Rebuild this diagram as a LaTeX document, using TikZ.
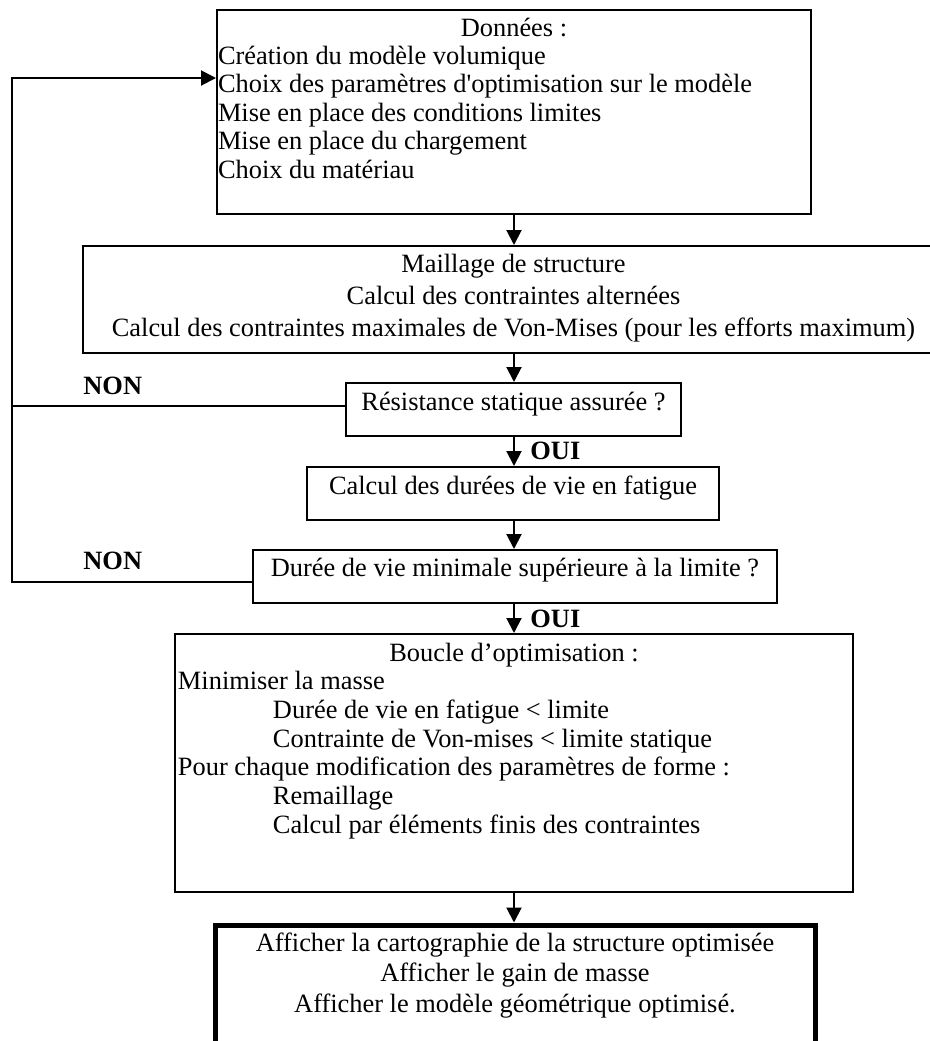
\documentclass[tikz,border=0pt]{standalone}
\usepackage{fontspec}
\setmainfont{Liberation Serif}
\usetikzlibrary{arrows.meta}

\tikzset{
  boite/.style={draw, line width=1pt, inner sep=0pt, anchor=north west},
  fleche/.style={line width=1pt, -{Triangle[width=7.5pt,length=7.5pt]}},
  trait/.style={line width=1pt},
  reponse/.style={anchor=base west, inner sep=0pt, font=\fontsize{13.2pt}{15pt}\bfseries},
}
% texte d'une boite : largeur, hauteur, interligne, texte
\newcommand{\contenu}[4]{\parbox[c][#2][t]{#1}{\fontsize{13.2pt}{#3}\selectfont #4}}
\newcommand{\haut}[1]{\rule{0pt}{#1}}

\begin{document}
\begin{tikzpicture}[x=0.5pt,y=-0.5pt]
  \useasboundingbox (0,0) rectangle (930,1041);

  \node[boite] (donnees) at (216,9) {\contenu{297pt}{102pt}{14.2pt}{\leftskip=0.5pt
      \centerline{\haut{13pt}Données :}
      Création du modèle volumique\\
      Choix des paramètres d\textquotesingle optimisation sur le modèle\\
      Mise en place des conditions limites\\
      Mise en place du chargement\\
      Choix du matériau}};
  \node[boite] (maillage) at (82,245) {\contenu{430.5pt}{53.5pt}{16pt}{\centering
      \haut{13pt}Maillage de structure\\
      Calcul des contraintes alternées\\
      Calcul des contraintes maximales de Von-Mises (pour les efforts maximum)}};
  \node[boite] (resistance) at (345,382) {\contenu{167.5pt}{26.5pt}{14pt}{\centering
      \haut{13.5pt}Résistance statique assurée ?}};
  \node[boite] (fatigue) at (306,466) {\contenu{206pt}{26.5pt}{14pt}{\centering
      \haut{13.5pt}Calcul des durées de vie en fatigue}};
  \node[boite] (duree) at (252,549) {\contenu{262pt}{26.5pt}{14pt}{\centering
      \haut{13pt}Durée de vie minimale supérieure à la limite ?}};
  \node[boite] (boucle) at (174,633) {\contenu{339pt}{129pt}{14.35pt}{\leftskip=1.5pt
      \centerline{\haut{13.5pt}Boucle d’optimisation :}
      Minimiser la masse\\
      \hspace*{47.5pt}Durée de vie en fatigue < limite\\
      \hspace*{47.5pt}Contrainte de Von-mises < limite statique\\
      Pour chaque modification des paramètres de forme :\\
      \hspace*{47.5pt}Remaillage\\
      \hspace*{47.5pt}Calcul par éléments finis des contraintes}};
  \node[boite, line width=2.5pt] (resultat) at (212.5,922.5) {\contenu{300pt}{70pt}{15.25pt}{\centering
      \haut{13pt}Afficher la cartographie de la structure optimisée\\
      Afficher le gain de masse\\
      Afficher le modèle géométrique optimisé.}};

  % reponses
  \node[reponse] (non1) at (83,394) {NON};
  \node[reponse] (non2) at (83,569) {NON};
  \node[reponse] (oui1) at (530,459) {OUI};
  \node[reponse] (oui2) at (530,627) {OUI};

  % enchainement
  \draw[fleche] (donnees.south) -- (donnees.south |- maillage.north);
  \draw[fleche] (donnees.south |- maillage.south) -- (donnees.south |- resistance.north);
  \draw[fleche] (donnees.south |- resistance.south) -- (donnees.south |- fatigue.north);
  \draw[fleche] (donnees.south |- fatigue.south) -- (donnees.south |- duree.north);
  \draw[fleche] (donnees.south |- duree.south) -- (donnees.south |- boucle.north);
  \draw[fleche] (donnees.south |- boucle.south) -- (donnees.south |- resultat.north);

  % retours
  \coordinate (retour) at (12,78);
  \draw[trait] ([yshift=1.75pt]resistance.west) -- ([yshift=1.75pt]resistance.west -| retour);
  \draw[fleche] ([yshift=-2.5pt]duree.west) -| (retour) -- (retour -| donnees.west);
\end{tikzpicture}
\end{document}
